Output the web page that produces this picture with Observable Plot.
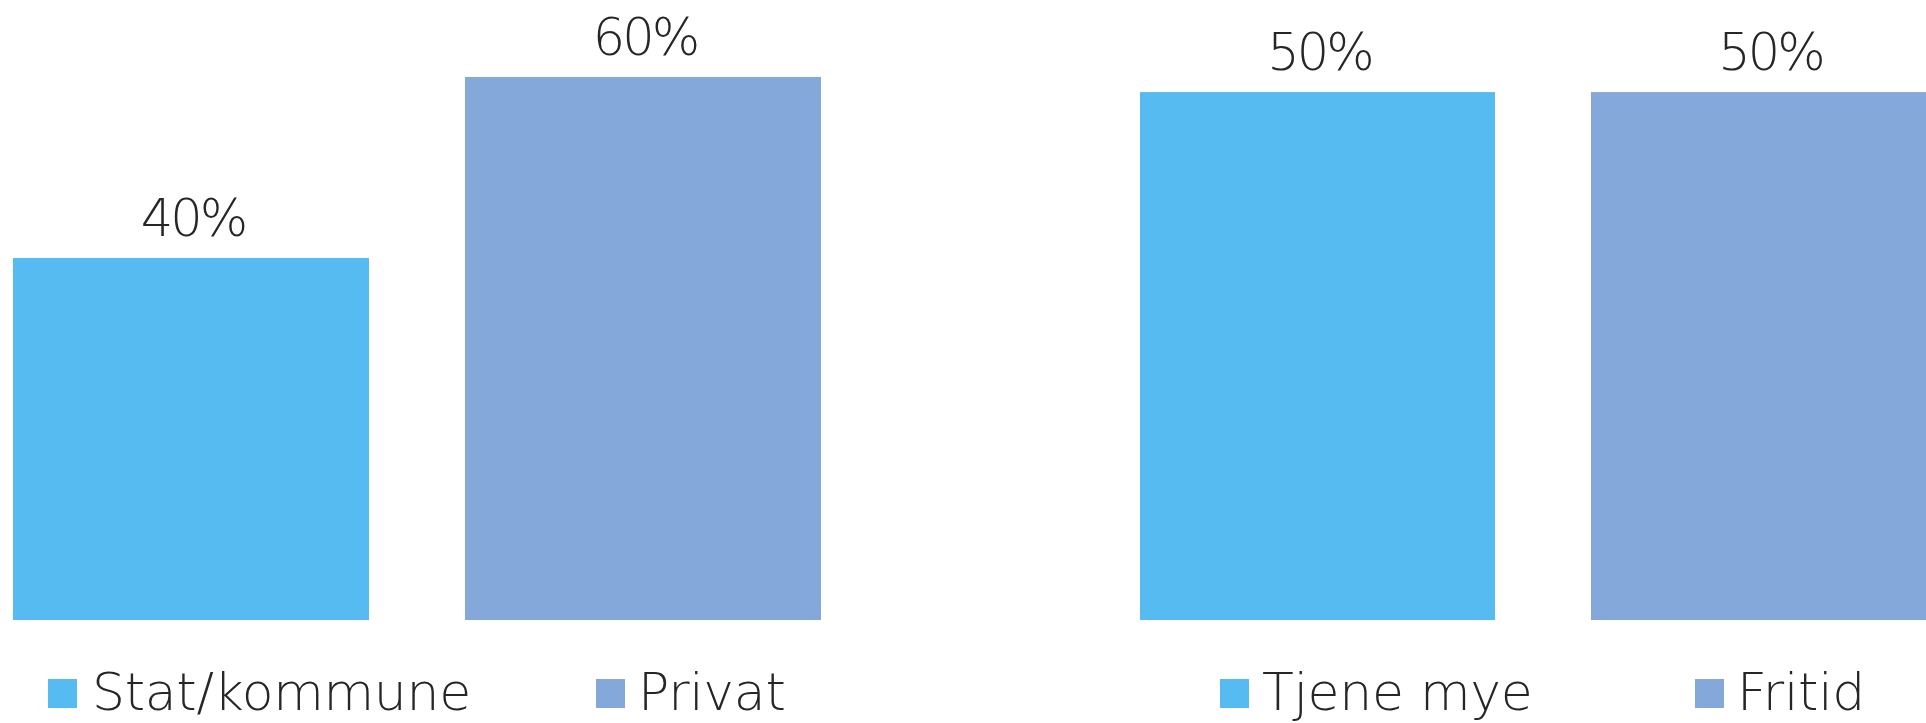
<!DOCTYPE html>
<html>
<head>
<meta charset="utf-8">
<script src="https://cdn.jsdelivr.net/npm/d3@7"></script>
<script src="https://cdn.jsdelivr.net/npm/@observablehq/plot@0.6"></script>
<style>
  html, body { margin: 0; padding: 0; background: #fff; overflow: hidden; }
  #chart { position: relative; width: 1926px; height: 723px; overflow: hidden; background: #fff;
    font-family: "DejaVu Sans", sans-serif; font-weight: 300; color: #262626; }
  .panel { position: absolute; top: 0; }
  .panel text { letter-spacing: -3px; }
  .swatch { position: absolute; width: 29px; height: 29px; }
  .legend-text { position: absolute; font-size: 52px; line-height: 52px; white-space: nowrap; letter-spacing: -0.3px; }
</style>
</head>
<body>
<div id="chart"></div>
<script>
// ---- data ----
const leftCategories = ["Stat/kommune", "Privat"];
const leftValues = [0.40, 0.60];
const rightCategories = ["Tjene mye", "Fritid"];
const rightValues = [0.50, 0.50];
const seriesColors = ["#55BBF0", "#84A8DA"];

const fmt = d3.format(".0%");
const container = document.getElementById("chart");

function panel(categories, values, opts) {
  const data = categories.map((c, i) => ({category: c, value: values[i]}));
  const svg = Plot.plot({
    width: opts.width,
    height: 640,
    margin: 0,
    style: {background: "transparent", fontFamily: "'DejaVu Sans', sans-serif", fontWeight: 300},
    x: {domain: categories, range: opts.xRange, paddingInner: 0.2124, paddingOuter: 0, axis: null},
    y: {domain: [0, opts.yMax], range: [620, -13.5], axis: null},
    color: {domain: categories, range: seriesColors},
    marks: [
      Plot.barY(data, {x: "category", y: "value", fill: "category"}),
      Plot.text(data, {
        x: "category", y: "value", text: d => fmt(d.value),
        dy: -23, dx: 1.5, lineAnchor: "bottom", fontSize: 51, fill: "#262626", fontWeight: 300
      })
    ]
  });
  svg.classList.add("panel");
  svg.style.left = opts.left + "px";
  container.appendChild(svg);

  categories.forEach((c, i) => {
    const sw = document.createElement("div");
    sw.className = "swatch";
    sw.style.background = seriesColors[i];
    sw.style.left = opts.legendX[i] + "px";
    sw.style.top = "679px";
    container.appendChild(sw);
    const tx = document.createElement("div");
    tx.className = "legend-text";
    tx.textContent = c;
    tx.style.left = (opts.legendX[i] + opts.textGap[i]) + "px";
    tx.style.top = "666px";
    container.appendChild(tx);
  });
}

panel(leftCategories, leftValues, {
  left: 0, width: 963, xRange: [12.9, 821.2], yMax: 0.7,
  legendX: [48, 596], textGap: [44, 42]
});
panel(rightCategories, rightValues, {
  left: 963, width: 984, xRange: [176.3, 984], yMax: 0.6,
  legendX: [1220, 1695], textGap: [42, 42]
});
</script>
</body>
</html>
